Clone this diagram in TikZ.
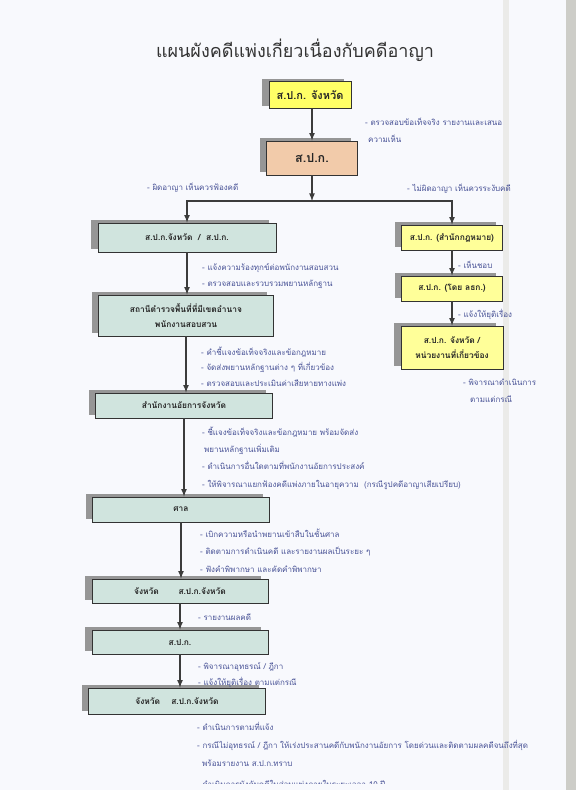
\documentclass[tikz,border=0pt]{standalone}
\usepackage{fontspec}
\setmainfont[Script=Thai]{Loma}
\usetikzlibrary{positioning,arrows,shadows}

\definecolor{pagewhite}{RGB}{248,249,253}
\definecolor{pageedge}{RGB}{205,205,200}
\definecolor{boxyellow}{RGB}{255,255,102}
\definecolor{boxpeach}{RGB}{242,203,170}
\definecolor{boxlight}{RGB}{255,255,153}
\definecolor{boxteal}{RGB}{208,228,222}
\definecolor{shadowgray}{RGB}{150,150,150}
\definecolor{notecolor}{RGB}{72,82,150}
\definecolor{flowgray}{RGB}{60,60,60}

\tikzset{
  unitbox/.style={draw=black!80, line width=0.8pt, inner sep=2pt, align=center,
    font=\fontsize{8.4}{15}\selectfont\bfseries, text=black!85,
    drop shadow={shadow xshift=-7pt,shadow yshift=3pt,fill=shadowgray,opacity=1}},
  note/.style={anchor=base west, inner sep=0pt, align=left, text=notecolor,
    font=\fontsize{8}{17}\selectfont},
  flow/.style={->, >=latex, line width=1.6pt, draw=flowgray},
}

\begin{document}
\begin{tikzpicture}[x=1pt,y=-1pt]
    \useasboundingbox (0,0) rectangle (576,790);
    \fill[pagewhite] (0,0) rectangle (576,790);
    \fill[pageedge] (566,0) rectangle (576,790);
    \fill[pageedge!40] (503,0) rectangle (509,790);

    \node[anchor=base, font=\fontsize{18}{22}\selectfont, text=black!80] at (295,57) (ttl) {แผนผังคดีแพ่งเกี่ยวเนื่องกับคดีอาญา};

    % top boxes
    \node[unitbox, fill=boxyellow, minimum width=82, minimum height=27, font=\fontsize{11}{14}\selectfont\bfseries] at (310,95) (spkJ) {ส.ป.ก. จังหวัด};
    \node[unitbox, fill=boxpeach, minimum width=91, minimum height=34, font=\fontsize{12.5}{15}\selectfont\bfseries] at (312,158) (spk) {ส.ป.ก.};
    \coordinate (split) at (312,201);

    % left column
    \node[unitbox, fill=boxteal, minimum width=178, minimum height=29] at (187,237.5) (provA) {ส.ป.ก.จังหวัด \ / \ ส.ป.ก.};
    \node[unitbox, fill=boxteal, minimum width=175, minimum height=41] at (186,315.5) (police) {สถานีตำรวจพื้นที่ที่มีเขตอำนาจ\\พนักงานสอบสวน};
    \node[unitbox, fill=boxteal, minimum width=177, minimum height=25] at (184,405.5) (attorney) {สำนักงานอัยการจังหวัด};
    \node[unitbox, fill=boxteal, minimum width=177, minimum height=25] at (181,509.5) (court) {ศาล};
    \node[unitbox, fill=boxteal, minimum width=176, minimum height=24] at (180,591) (provB) {จังหวัด \qquad ส.ป.ก.จังหวัด};
    \node[unitbox, fill=boxteal, minimum width=176, minimum height=24] at (180,642) (spkB) {ส.ป.ก.};
    \node[unitbox, fill=boxteal, minimum width=177, minimum height=26] at (177,701) (provC) {จังหวัด \quad ส.ป.ก.จังหวัด};

    % right column
    \node[unitbox, fill=boxlight, minimum width=101, minimum height=25] at (452,237.5) (legal) {ส.ป.ก. (สำนักกฎหมาย)};
    \node[unitbox, fill=boxlight, minimum width=101, minimum height=25] at (452,288.5) (deputy) {ส.ป.ก. (โดย ลธก.)};
    \node[unitbox, fill=boxlight, minimum width=102, minimum height=43] at (452,347.5) (agency) {ส.ป.ก. จังหวัด /\\หน่วยงานที่เกี่ยวข้อง};

    % arrows
    \draw[flow] (spk.north |- spkJ.south) -- (spk.north);
    \draw[flow] (spk) -- (split);
    \draw[flow] (split) -| (provA.north);
    \draw[flow] (split) -| (legal.north);
    \draw[flow] (provA.south) -- (provA.south |- police.north);
    \draw[flow] (police.south) -- (police.south |- attorney.north);
    \draw[flow] (attorney.south) -- (attorney.south |- court.north);
    \draw[flow] (court.south) -- (court.south |- provB.north);
    \draw[flow] (provB.south) -- (provB.south |- spkB.north);
    \draw[flow] (spkB.south) -- (spkB.south |- provC.north);
    \draw[flow] (legal) -- (deputy);
    \draw[flow] (deputy) -- (agency);

    % notes (anchored at the baseline of their last line)
    \node[note] at (365,142) (nCheck) {- ตรวจสอบข้อเท็จจริง รายงานและเสนอ\\\hspace{3pt}ความเห็น};
    \node[note] at (147,190) (nSue) {- ผิดอาญา เห็นควรฟ้องคดี};
    \node[note] at (407,191) (nStop) {- ไม่ผิดอาญา เห็นควรระงับคดี};
    \node[note, font=\fontsize{8}{16}\selectfont] at (202,286) (nReport) {- แจ้งความร้องทุกข์ต่อพนักงานสอบสวน\\- ตรวจสอบและรวบรวมพยานหลักฐาน};
    \node[note, font=\fontsize{8}{15.5}\selectfont] at (201,386) (nFacts) {- คำชี้แจงข้อเท็จจริงและข้อกฎหมาย\\- จัดส่งพยานหลักฐานต่าง ๆ ที่เกี่ยวข้อง\\- ตรวจสอบและประเมินค่าเสียหายทางแพ่ง};
    \node[note, font=\fontsize{8}{17.3}\selectfont] at (202,487) (nCase) {- ชี้แจงข้อเท็จจริงและข้อกฎหมาย พร้อมจัดส่ง\\\hspace{2pt}พยานหลักฐานเพิ่มเติม\\- ดำเนินการอื่นใดตามที่พนักงานอัยการประสงค์\\- ให้พิจารณาแยกฟ้องคดีแพ่งภายในอายุความ \ (กรณีรูปคดีอาญาเสียเปรียบ)};
    \node[note, font=\fontsize{8}{17.5}\selectfont] at (200,572) (nTrial) {- เบิกความหรือนำพยานเข้าสืบในชั้นศาล\\- ติดตามการดำเนินคดี และรายงานผลเป็นระยะ ๆ\\- ฟังคำพิพากษา และคัดคำพิพากษา};
    \node[note] at (198,620) (nResult) {- รายงานผลคดี};
    \node[note, font=\fontsize{8}{16}\selectfont] at (198,685) (nAppeal) {- พิจารณาอุทธรณ์ / ฎีกา\\- แจ้งให้ยุติเรื่อง ตามแต่กรณี};
    \node[note, font=\fontsize{8}{17.7}\selectfont] at (197,766) (nFinal) {- ดำเนินการตามที่แจ้ง\\- กรณีไม่อุทธรณ์ / ฎีกา ให้เร่งประสานคดีกับพนักงานอัยการ โดยด่วนและติดตามผลคดีจนถึงที่สุด\\\hspace{5pt}พร้อมรายงาน ส.ป.ก.ทราบ};
    % page is cut through this line
    \begin{scope}
      \clip (0,0) rectangle (576,783.5);
      \node[note] at (197,787) (nLast) {- ดำเนินการบังคับคดีในส่วนแพ่งภายในระยะเวลา 10 ปี};
    \end{scope}
    \node[note] at (458,268) (nAgree) {- เห็นชอบ};
    \node[note] at (458,317) (nEnd) {- แจ้งให้ยุติเรื่อง};
    \node[note] at (463,402) (nConsider) {- พิจารณาดำเนินการ\\\hspace{7pt}ตามแต่กรณี};
\end{tikzpicture}
\end{document}
